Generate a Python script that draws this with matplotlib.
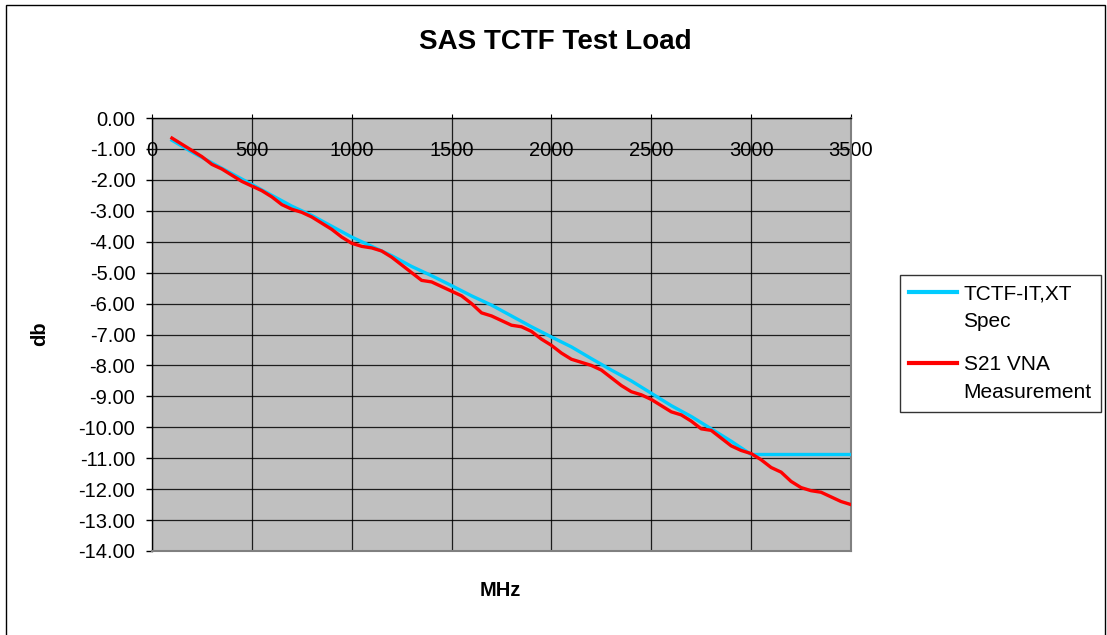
import matplotlib
matplotlib.use("Agg")
import matplotlib.pyplot as plt
from matplotlib.patches import Rectangle
import numpy as np

plt.rcParams['font.family'] = ['Liberation Sans', 'DejaVu Sans']

# ---- data ----
spec_freq = [100, 200, 300, 400, 500, 600, 700, 800, 900, 1000, 1100, 1200, 1300,
             1400, 1500, 1600, 1700, 1800, 1900, 2000, 2100, 2200, 2300, 2400,
             2500, 2600, 2700, 2800, 2900, 3000, 3500]
spec_db = [-0.72, -1.1, -1.45, -1.8, -2.15, -2.5, -2.85, -3.15, -3.5, -3.85, -4.15,
           -4.45, -4.8, -5.1, -5.42, -5.75, -6.05, -6.4, -6.75, -7.08, -7.4, -7.78,
           -8.15, -8.5, -8.9, -9.3, -9.65, -10.05, -10.45, -10.88, -10.88]

meas_freq = [100, 150, 200, 250, 300, 350, 400, 450, 500, 550, 600, 650, 700, 750,
             800, 850, 900, 950, 1000, 1050, 1100, 1150, 1200, 1250, 1300, 1350,
             1400, 1450, 1500, 1550, 1600, 1650, 1700, 1750, 1800, 1850, 1900, 1950,
             2000, 2050, 2100, 2150, 2200, 2250, 2300, 2350, 2400, 2450, 2500, 2550,
             2600, 2650, 2700, 2750, 2800, 2850, 2900, 2950, 3000, 3050, 3100, 3150,
             3200, 3250, 3300, 3350, 3400, 3450, 3500]
meas_db = [-0.65, -0.85, -1.05, -1.25, -1.5, -1.65, -1.85, -2.05, -2.2, -2.35, -2.55,
           -2.8, -2.95, -3.05, -3.2, -3.4, -3.6, -3.85, -4.05, -4.15, -4.2, -4.3,
           -4.5, -4.75, -5.0, -5.25, -5.3, -5.45, -5.6, -5.75, -6.0, -6.3, -6.4,
           -6.55, -6.7, -6.75, -6.9, -7.15, -7.35, -7.6, -7.8, -7.9, -8.0, -8.15,
           -8.4, -8.65, -8.85, -8.95, -9.1, -9.3, -9.5, -9.6, -9.8, -10.05, -10.1,
           -10.35, -10.6, -10.75, -10.85, -11.05, -11.3, -11.45, -11.75, -11.95,
           -12.05, -12.1, -12.25, -12.4, -12.5]

x_ticks = [0, 500, 1000, 1500, 2000, 2500, 3000, 3500]
y_ticks = [0, -1, -2, -3, -4, -5, -6, -7, -8, -9, -10, -11, -12, -13, -14]
y_labels = ["0.00", "-1.00", "-2.00", "-3.00", "-4.00", "-5.00", "-6.00", "-7.00",
            "-8.00", "-9.00", "-10.00", "-11.00", "-12.00", "-13.00", "-14.00"]
series_names = ["TCTF-IT,XT\nSpec", "S21 VNA\nMeasurement"]

W, H = 1107, 635
fig = plt.figure(figsize=(W / 100, H / 100), dpi=100)
fig.patch.set_facecolor('white')

# outer frame
fig.add_artist(Rectangle((6 / W, -0.01), (1105 - 6) / W, 1 - 5 / H + 0.01,
                         transform=fig.transFigure, fill=False, edgecolor='black',
                         linewidth=1.0))

ax = fig.add_axes([152 / W, 1 - 551 / H, (851 - 152) / W, (551 - 118) / H])
ax.set_facecolor('#C0C0C0')

ax.plot(spec_freq, spec_db, color='#00CCFF', linewidth=2.4, label=series_names[0],
        zorder=3)
ax.plot(meas_freq, meas_db, color='#FF0000', linewidth=2.4, label=series_names[1],
        zorder=4)

ax.set_xlim(0, 3500)
ax.set_ylim(-14, 0)
ax.set_yticks(y_ticks)
ax.set_yticklabels(y_labels)
ax.set_xticks(x_ticks)
ax.set_xticklabels([str(v) for v in x_ticks])

ax.grid(True, color='black', linewidth=0.9, alpha=0.85, zorder=1)
ax.set_axisbelow(True)

ax.xaxis.set_ticks_position('top')
ax.tick_params(axis='x', top=True, bottom=False, labeltop=True, labelbottom=False,
               length=3, width=0.8, pad=-33.5, labelsize=14.5, colors='black')
ax.tick_params(axis='y', left=True, length=4, width=1.0, pad=8, labelsize=14.5,
               colors='black')

for side in ['left', 'top']:
    ax.spines[side].set_color('black')
    ax.spines[side].set_linewidth(1.0)
for side in ['right', 'bottom']:
    ax.spines[side].set_color('#808080')
    ax.spines[side].set_linewidth(1.5)

fig.text(555 / W, 1 - 42 / H, "SAS TCTF Test Load", ha='center', va='center',
         fontsize=20, fontweight='bold')
fig.text(500 / W, 1 - 590 / H, "MHz", ha='center', va='center', fontsize=14.5,
         fontweight='bold')
fig.text(40 / W, 1 - 334 / H, "db", ha='center', va='center', fontsize=14.5,
         fontweight='bold', rotation=90)

leg = fig.legend(loc='upper left', bbox_to_anchor=(900 / W, 1 - 275 / H),
                 bbox_transform=fig.transFigure, fontsize=15, frameon=True,
                 fancybox=False, edgecolor='black', handlelength=2.3,
                 handletextpad=0.3, borderpad=0.45, labelspacing=1.15,
                 borderaxespad=0)
leg.get_frame().set_linewidth(1.0)
for t in leg.get_texts():
    t.set_linespacing(1.6)
for line in leg.get_lines():
    line.set_linewidth(3)
    yd = np.asarray(line.get_ydata(), dtype=float)
    line.set_ydata(yd + 11.8)

fig.savefig("out.png", dpi=100)
